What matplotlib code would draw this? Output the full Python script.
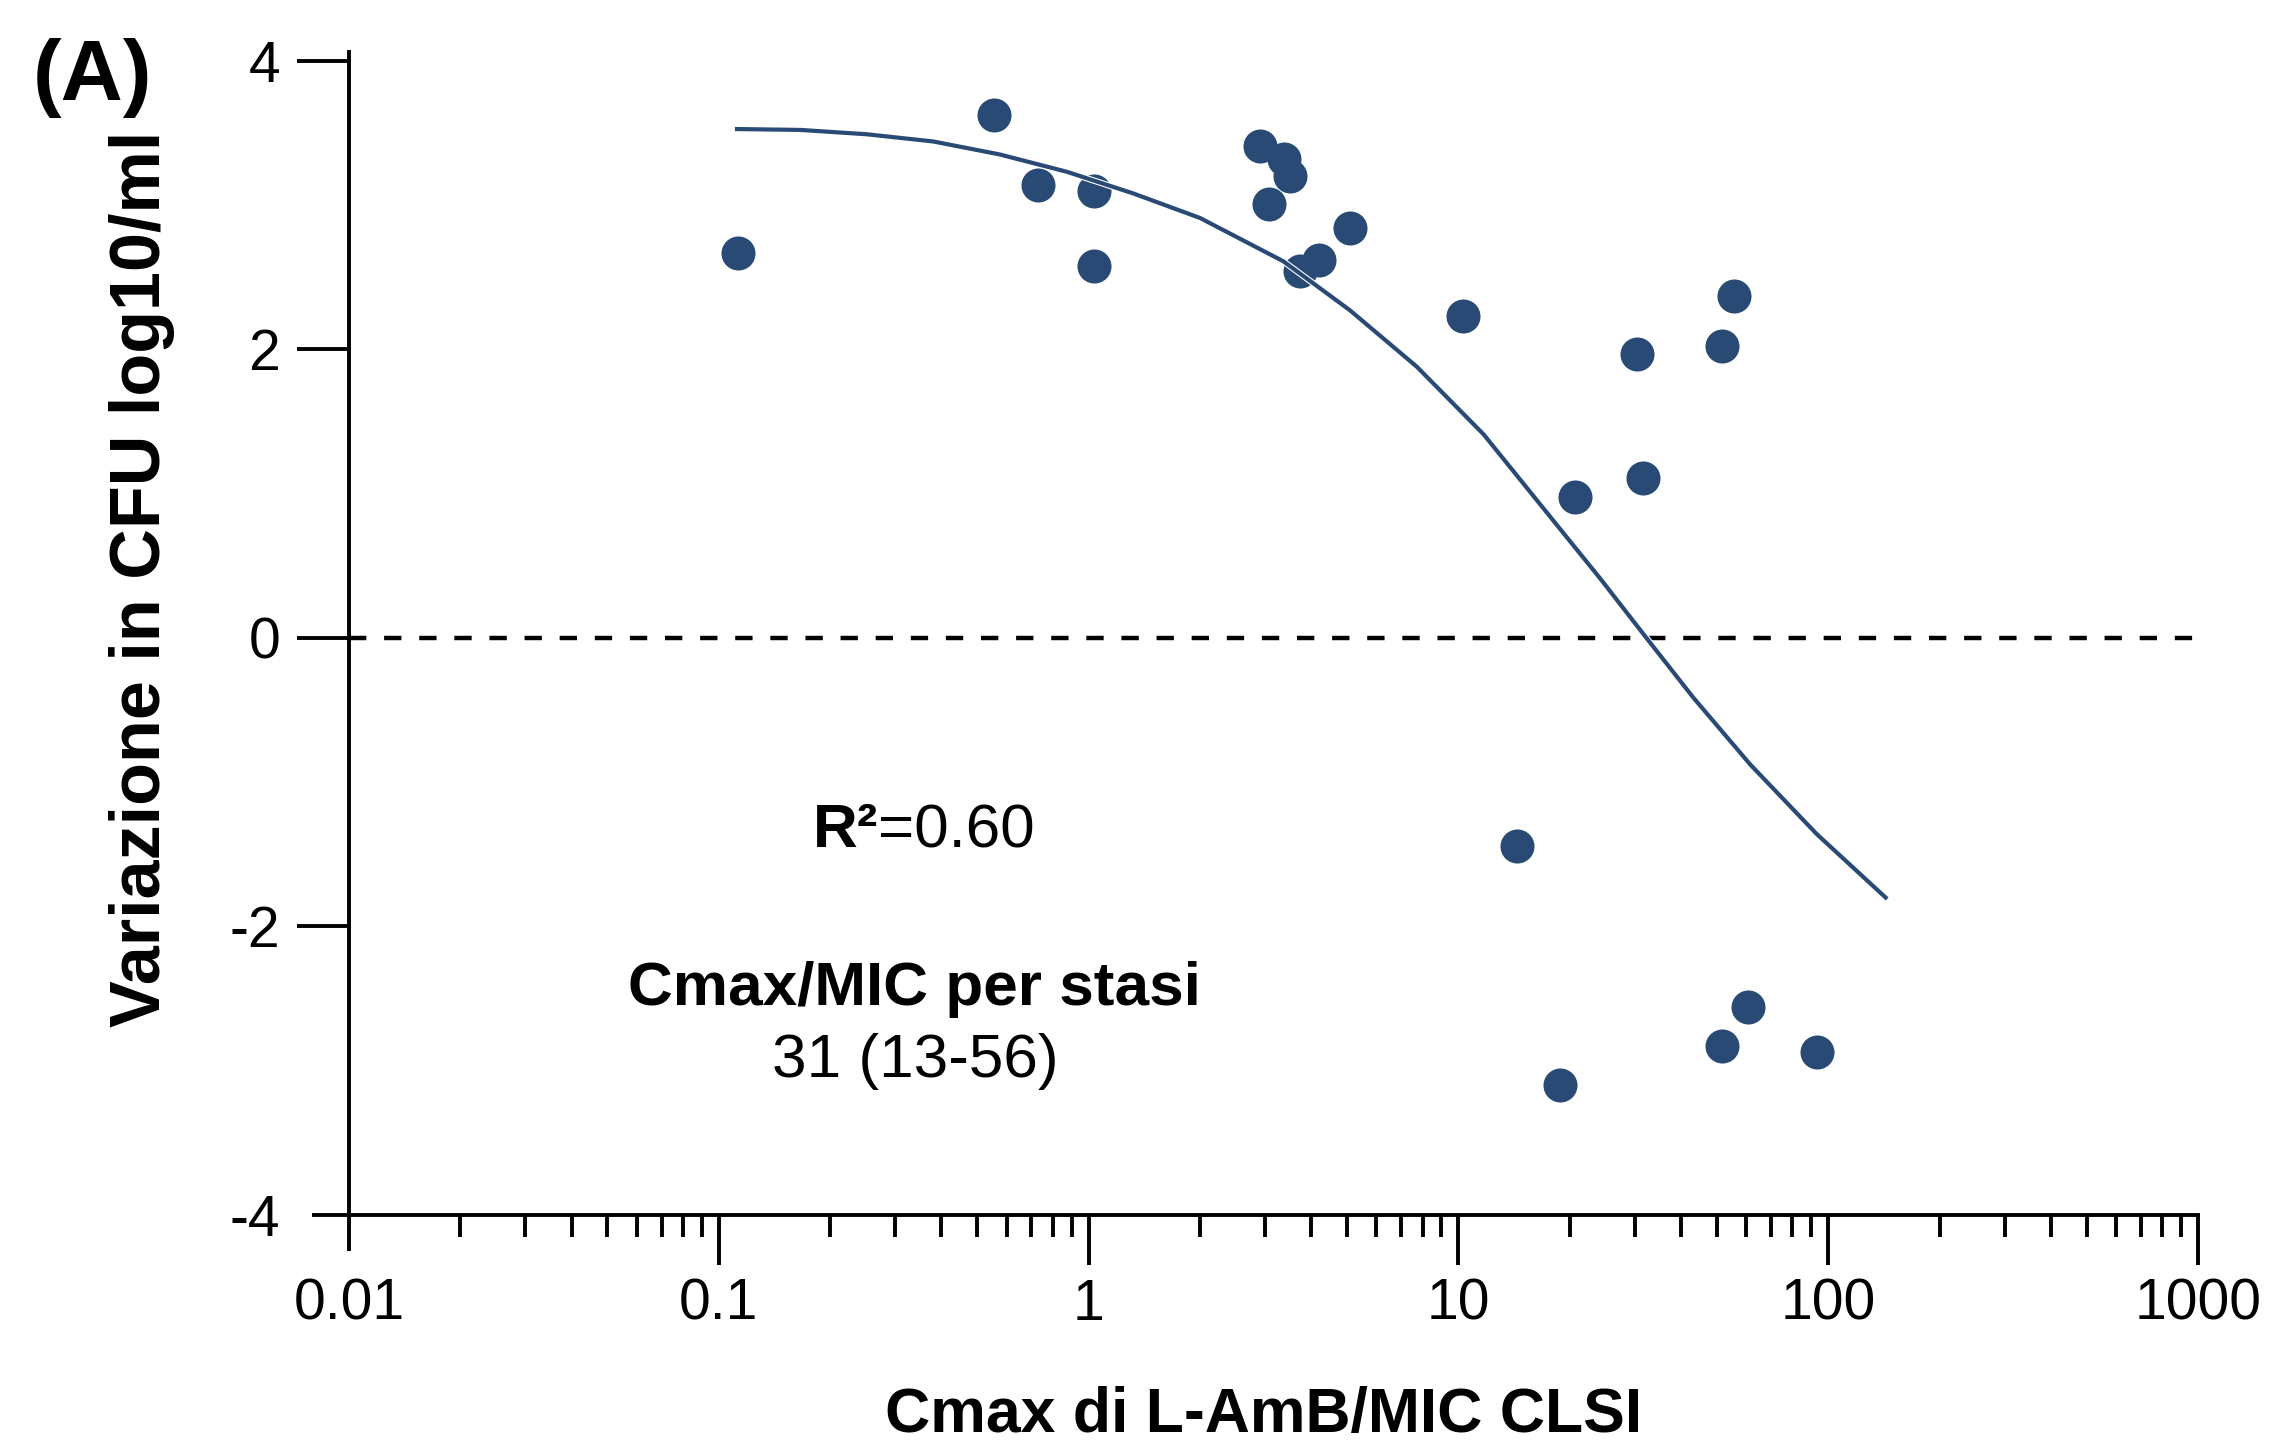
import matplotlib
matplotlib.use("Agg")
import matplotlib.pyplot as plt
import matplotlib.patheffects as pe
from matplotlib.ticker import LogLocator, NullFormatter, FixedLocator, FixedFormatter

plt.rcParams['font.family'] = ['Liberation Sans', 'DejaVu Sans']

# punti osservati (Cmax/MIC, variazione log10 CFU/ml)
cmax_mic = [0.113, 0.556, 0.731, 1.035, 1.035, 2.90, 3.38, 3.51, 3.08, 3.74, 4.21,
            5.10, 10.3, 30.5, 51.7, 55.6, 20.7, 31.6, 14.4, 18.8, 51.7, 60.8, 93.1]
delta_cfu = [2.67, 3.62, 3.14, 3.10, 2.58, 3.41, 3.32, 3.20, 3.01, 2.54, 2.62,
             2.84, 2.23, 1.97, 2.02, 2.37, 0.974, 1.106, -1.44, -3.10, -2.83, -2.56, -2.87]

# curva del modello
fit_x = [0.112, 0.166, 0.251, 0.380, 0.575, 0.873, 1.32, 2.00, 3.36, 5.09, 7.71,
         11.7, 17.7, 24.2, 32.0, 43.2, 61.5, 93.1, 143]
fit_y = [3.526, 3.52, 3.49, 3.44, 3.35, 3.23, 3.08, 2.91, 2.61, 2.27, 1.88,
         1.41, 0.84, 0.41, 0.01, -0.415, -0.877, -1.36, -1.80]

xticks = [0.01, 0.1, 1, 10, 100, 1000]
xlabels = ['0.01', '0.1', '1', '10', '100', '1000']
yticks = [-4, -2, 0, 2, 4]

blue = '#284a74'
W, H = 2273, 1454

fig = plt.figure(figsize=(W / 100, H / 100), dpi=100)
ax = fig.add_axes([349 / W, 1 - 1215 / H, (2198 - 349) / W, (1215 - 52) / H])

ax.set_xscale('log')
ax.set_xlim(0.01, 1000)
ax.set_ylim(-4, 4.06)

ax.axhline(0, color='black', lw=3.2, linestyle=(0, (3.9, 4.0)), zorder=1)
ax.plot(cmax_mic, delta_cfu, 'o', ms=24.5, color=blue, mec='none', zorder=2)
ax.plot(fit_x, fit_y, color=blue, lw=3.0, zorder=3,
        path_effects=[pe.Stroke(linewidth=4.6, foreground='white'), pe.Normal()])

for s in ['top', 'right']:
    ax.spines[s].set_visible(False)
for s in ['left', 'bottom']:
    ax.spines[s].set_linewidth(2.8)

ax.xaxis.set_major_locator(FixedLocator(xticks))
ax.xaxis.set_major_formatter(FixedFormatter(xlabels))
ax.xaxis.set_minor_locator(LogLocator(base=10, subs=range(2, 10)))
ax.xaxis.set_minor_formatter(NullFormatter())
ax.set_yticks(yticks)
ax.set_yticklabels([str(v) for v in yticks])

ax.tick_params(axis='x', which='major', length=36, width=2.8, labelsize=41, pad=9)
ax.tick_params(axis='x', which='minor', length=16, width=2.8)
ax.tick_params(axis='y', which='major', length=37.5, width=2.8, labelsize=41, pad=12)

# tacche d'angolo piu corte
ax.xaxis.get_major_ticks()[0].tick1line.set_markersize(26)
ax.yaxis.get_major_ticks()[0].tick1line.set_markersize(27)

fig.text(1264 / W, 1 - 1432 / H, 'Cmax di L-AmB/MIC CLSI', fontsize=45,
         fontweight='bold', ha='center', va='baseline')
fig.text(142 / W, 1 - 579 / H, 'Variazione in CFU log10/ml', fontsize=50.5,
         fontweight='bold', ha='center', va='center', rotation=90)
fig.text(33 / W, 1 - 100 / H, '(A)', fontsize=62, fontweight='bold',
         ha='left', va='baseline')

fig.text(878 / W, 1 - 847 / H, 'R²', fontsize=44.7, fontweight='bold',
         ha='right', va='baseline')
fig.text(878 / W, 1 - 847 / H, '=0.60', fontsize=44.7, ha='left', va='baseline')
fig.text(914 / W, 1 - 1005 / H, 'Cmax/MIC per stasi', fontsize=44.7,
         fontweight='bold', ha='center', va='baseline')
fig.text(915 / W, 1 - 1077 / H, '31 (13-56)', fontsize=44.7, ha='center', va='baseline')

fig.savefig('out.png', dpi=100)
